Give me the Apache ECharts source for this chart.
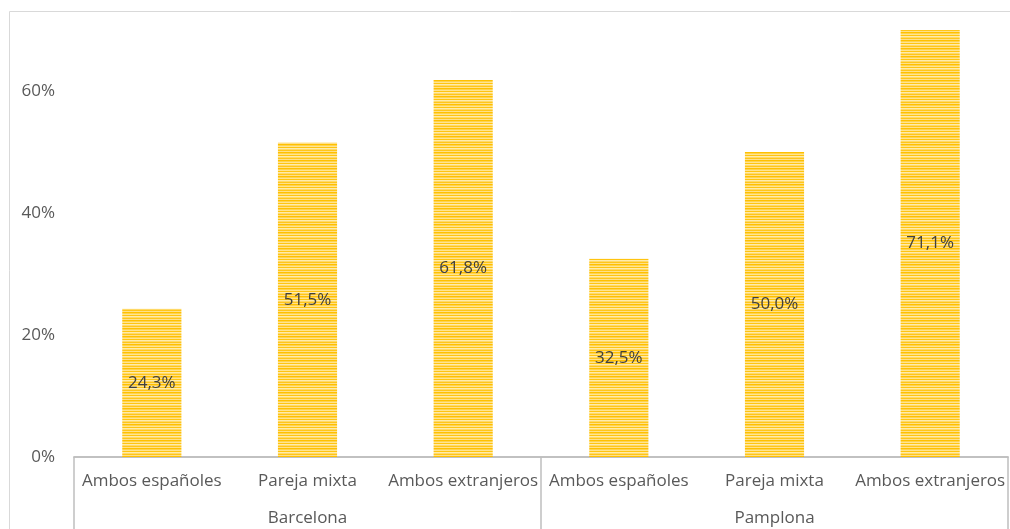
<!DOCTYPE html>
<html>
<head>
<meta charset="utf-8">
<script src="https://cdn.jsdelivr.net/npm/echarts@6/dist/echarts.min.js"></script>
<style>
  html, body { margin: 0; padding: 0; background: #fff; }
  #main { width: 1010px; height: 529px; }
</style>
</head>
<body>
<div id="main"></div>
<script>
// data
var categories = ['Ambos españoles', 'Pareja mixta', 'Ambos extranjeros',
                  'Ambos españoles', 'Pareja mixta', 'Ambos extranjeros'];
var groups = ['Barcelona', 'Pamplona'];
var values = [24.3, 51.5, 61.8, 32.5, 50.0, 71.1];

// striped fill (horizontal lines)
var stripeRows = ['#FFC000', '#FFD34D', '#FFE490', '#FFC410', '#FFEBAA', '#FFD966', '#FFC61A', '#FFE08A'];
var pat = document.createElement('canvas');
pat.width = 4;
pat.height = stripeRows.length;
var ctx = pat.getContext('2d');
stripeRows.forEach(function (c, i) {
  ctx.fillStyle = c;
  ctx.fillRect(0, i, 4, 1);
});

var font = '"Open Sans", "Noto Sans", sans-serif';
var textColor = '#595959';
var lineColor = '#BFBFBF';

var myChart = echarts.init(document.getElementById('main'));
myChart.setOption({
  animation: false,
  textStyle: { fontFamily: font },
  graphic: [{
    type: 'rect',
    shape: { x: 9.5, y: 11.5, width: 1010, height: 600 },
    style: { fill: 'none', stroke: '#D9D9D9', lineWidth: 1 },
    silent: true,
    z: -1
  }],
  grid: { left: 74, right: 2, top: 30, bottom: 72, containLabel: false },
  yAxis: {
    type: 'value',
    min: 0,
    max: 70,
    interval: 20,
    splitLine: { show: false },
    axisLine: { show: false },
    axisTick: { show: false },
    axisLabel: {
      margin: 19,
      color: textColor,
      fontSize: 17,
      fontFamily: font,
      formatter: function (v) { return v % 20 === 0 ? v + '%' : ''; }
    }
  },
  xAxis: [{
    type: 'category',
    data: categories,
    position: 'bottom',
    axisLine: { show: true, lineStyle: { color: lineColor, width: 1.5 } },
    axisTick: { show: false },
    axisLabel: { color: textColor, fontSize: 17, margin: 16, interval: 0, fontFamily: font }
  }, {
    type: 'category',
    data: groups,
    position: 'bottom',
    axisLine: { show: true, lineStyle: { color: lineColor, width: 1.5 } },
    axisTick: { show: true, length: 90, interval: 0, lineStyle: { color: lineColor, width: 1.5 } },
    axisLabel: { color: textColor, fontSize: 17, margin: 53, interval: 0, fontFamily: font }
  }],
  series: [{
    type: 'bar',
    xAxisIndex: 0,
    data: values,
    barWidth: '38%',
    clip: true,
    itemStyle: { color: { image: pat, repeat: 'repeat' } },
    label: {
      show: true,
      position: 'inside',
      color: '#404040',
      fontSize: 17,
      fontFamily: font,
      formatter: function (p) { return p.value.toFixed(1).replace('.', ',') + '%'; }
    }
  }]
});
</script>
</body>
</html>
